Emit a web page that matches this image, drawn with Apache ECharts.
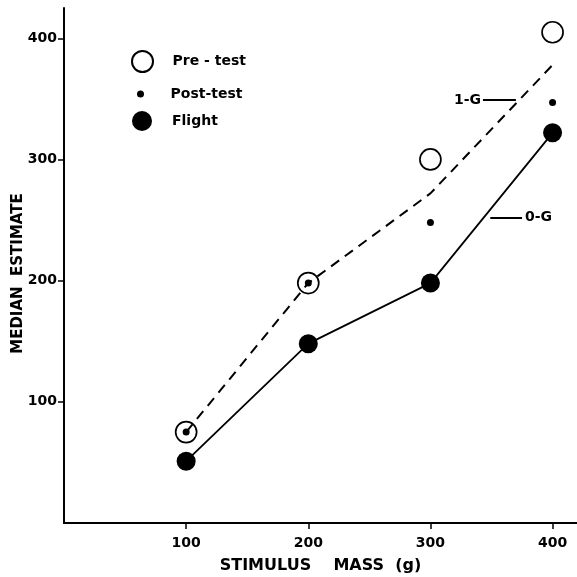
<!DOCTYPE html>
<html>
<head>
<meta charset="utf-8">
<script src="https://cdn.jsdelivr.net/npm/echarts@6/dist/echarts.min.js"></script>
<style>html,body{margin:0;padding:0;background:#fff}#c{width:577px;height:577px}</style>
</head>
<body>
<div id="c"></div>
<script>
// ---- data ----
const masses   = [100, 200, 300, 400];
const preTest  = [75, 198, 300, 405];
const postTest = [75, 198, 248, 347];
const flight   = [51, 148, 198, 322];
const oneG     = [75, 198, 272, 378];
const xTicks   = [100, 200, 300, 400];
const yTicks   = [100, 200, 300, 400];

const pairs = (ys) => masses.map((m, i) => [m, ys[i]]);
const FONT = 'DejaVu Sans';
const txt = (size) => ({ fontFamily: FONT, fontWeight: 'bold', fontSize: size, color: '#000' });

const chart = echarts.init(document.getElementById('c'), null, { renderer: 'canvas' });
const option = {
  animation: false,
  backgroundColor: '#fff',
  grid: { left: 64, right: 0, top: 8, bottom: 54, containLabel: false, outerBoundsMode: 'none' },
  xAxis: {
    type: 'value', min: 0, max: 420, interval: 100,
    name: 'STIMULUS    MASS  (g)', nameLocation: 'middle', nameGap: 35, nameMoveOverlap: false,
    nameTextStyle: txt(16),
    axisLine: { show: true, lineStyle: { color: '#000', width: 2 } },
    axisTick: { show: true, customValues: xTicks, length: 6, lineStyle: { color: '#000', width: 1.5 } },
    axisLabel: Object.assign({ customValues: xTicks, margin: 13 }, txt(14)),
    splitLine: { show: false }
  },
  yAxis: {
    type: 'value', min: 0, max: 425, interval: 100,
    name: 'MEDIAN  ESTIMATE', nameLocation: 'middle', nameGap: 38, nameMoveOverlap: false,
    nameTextStyle: Object.assign({ padding: [0, 16, 0, 0] }, txt(15)),
    axisLine: { show: true, lineStyle: { color: '#000', width: 2 } },
    axisTick: { show: true, customValues: yTicks, length: 6, lineStyle: { color: '#000', width: 1.5 } },
    axisLabel: Object.assign({ customValues: yTicks, margin: 7 }, txt(14)),
    splitLine: { show: false }
  },
  legend: [
    { data: [{ name: 'Pre - test', icon: 'circle' }], left: 131, top: 50, padding: 0,
      itemWidth: 50, itemHeight: 21, selectedMode: false, textStyle: txt(14) },
    { data: [{ name: 'Post-test', icon: 'circle' }], left: 137, top: 87, padding: 0,
      itemWidth: 50, itemHeight: 7, selectedMode: false, textStyle: txt(14) },
    { data: [{ name: 'Flight', icon: 'circle' }], left: 132, top: 111, padding: 0,
      itemWidth: 50, itemHeight: 20, selectedMode: false, textStyle: txt(14) }
  ],
  series: [
    {
      name: 'Pre - test', type: 'scatter', data: pairs(preTest), symbol: 'circle', symbolSize: 21,
      itemStyle: { color: '#fff', borderColor: '#000', borderWidth: 1.7, opacity: 1 }, silent: true
    },
    {
      name: '1-G', type: 'line', data: pairs(oneG), showSymbol: false, symbol: 'none', silent: true,
      lineStyle: { color: '#000', width: 2, type: [10, 7] },
      markLine: {
        silent: true, symbol: ['none', 'none'], animation: false,
        lineStyle: { color: '#000', width: 1.8, type: 'solid' },
        label: Object.assign({ show: true, formatter: '1-G', position: 'start', distance: 2, padding: [0, 0, 4, 0] }, txt(14)),
        data: [[{ coord: [343, 349] }, { coord: [370, 349] }]]
      }
    },
    {
      name: 'Flight', type: 'line', data: pairs(flight), symbol: 'circle', symbolSize: 19, silent: true,
      itemStyle: { color: '#000', opacity: 1 }, lineStyle: { color: '#000', width: 1.8 },
      markLine: {
        silent: true, symbol: ['none', 'none'], animation: false,
        lineStyle: { color: '#000', width: 1.8, type: 'solid' },
        label: Object.assign({ show: true, formatter: '0-G', position: 'end', distance: 3 }, txt(14)),
        data: [[{ coord: [349, 252] }, { coord: [375, 252] }]]
      }
    },
    {
      name: 'Post-test', type: 'scatter', data: pairs(postTest), symbol: 'circle', symbolSize: 7,
      itemStyle: { color: '#000', opacity: 1 }, silent: true
    }
  ]
};
chart.setOption(option);
</script>
</body>
</html>
